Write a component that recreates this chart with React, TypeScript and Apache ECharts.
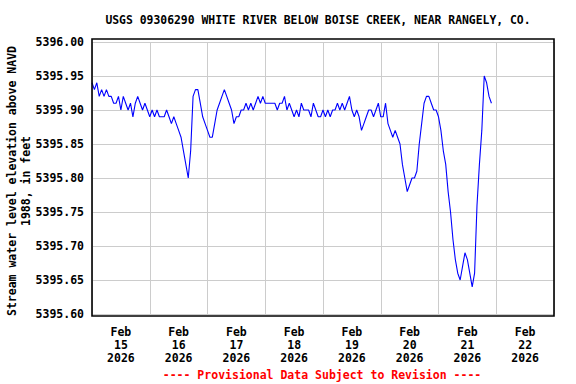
import React, { useEffect, useRef } from 'react';
import * as echarts from 'echarts';

const TITLE = 'USGS 09306290 WHITE RIVER BELOW BOISE CREEK, NEAR RANGELY, CO.';
const Y_AXIS_NAME = 'Stream water level elevation above NAVD\n1988, in feet';
const FOOTER = '---- Provisional Data Subject to Revision ----';

const DAY_LABELS = [
  'Feb\n15\n2026',
  'Feb\n16\n2026',
  'Feb\n17\n2026',
  'Feb\n18\n2026',
  'Feb\n19\n2026',
  'Feb\n20\n2026',
  'Feb\n21\n2026',
  'Feb\n22\n2026',
];

const Y_MIN = 5395.6;
const Y_MAX = 5396.0;
const Y_STEP = 0.05;
const HOURS_SPAN = 192; // Feb 15 00:00 -> Feb 23 00:00

// Hourly readings starting Feb 15 00:00 (feet)
const stage: number[] = [
  5395.94, 5395.93, 5395.94, 5395.92, 5395.93, 5395.92, 5395.93, 5395.92, 5395.92, 5395.91,
  5395.91, 5395.92, 5395.90, 5395.92, 5395.91, 5395.90, 5395.91, 5395.89, 5395.91, 5395.92,
  5395.91, 5395.90, 5395.91, 5395.90, 5395.89, 5395.90, 5395.89, 5395.90, 5395.89, 5395.89,
  5395.89, 5395.90, 5395.89, 5395.88, 5395.89, 5395.88, 5395.87, 5395.86, 5395.84, 5395.82,
  5395.80, 5395.84, 5395.92, 5395.93, 5395.93, 5395.91, 5395.89, 5395.88, 5395.87, 5395.86,
  5395.86, 5395.88, 5395.90, 5395.91, 5395.92, 5395.93, 5395.92, 5395.91, 5395.90, 5395.88,
  5395.89, 5395.89, 5395.90, 5395.90, 5395.91, 5395.90, 5395.91, 5395.90, 5395.91, 5395.92,
  5395.91, 5395.92, 5395.91, 5395.91, 5395.91, 5395.91, 5395.91, 5395.90, 5395.91, 5395.91,
  5395.92, 5395.90, 5395.91, 5395.90, 5395.89, 5395.90, 5395.89, 5395.91, 5395.90, 5395.90,
  5395.90, 5395.89, 5395.91, 5395.90, 5395.89, 5395.89, 5395.90, 5395.89, 5395.90, 5395.89,
  5395.90, 5395.90, 5395.91, 5395.90, 5395.91, 5395.90, 5395.91, 5395.92, 5395.90, 5395.89,
  5395.90, 5395.89, 5395.87, 5395.88, 5395.89, 5395.90, 5395.90, 5395.89, 5395.90, 5395.91,
  5395.89, 5395.89, 5395.91, 5395.88, 5395.87, 5395.86, 5395.87, 5395.86, 5395.85, 5395.82,
  5395.80, 5395.78, 5395.79, 5395.80, 5395.80, 5395.81, 5395.85, 5395.88, 5395.91, 5395.92,
  5395.92, 5395.91, 5395.90, 5395.90, 5395.89, 5395.87, 5395.84, 5395.82, 5395.78, 5395.75,
  5395.71, 5395.68, 5395.66, 5395.65, 5395.67, 5395.69, 5395.68, 5395.66, 5395.64, 5395.66,
  5395.76, 5395.82, 5395.87, 5395.95, 5395.94, 5395.92, 5395.91,
];

const FONT = '"DejaVu Sans Mono", "Liberation Mono", monospace';

export default function App() {
  const ref = useRef<HTMLDivElement>(null);

  useEffect(() => {
    if (!ref.current) return;
    const chart = echarts.init(ref.current, undefined, { renderer: 'svg' });
    const seriesData = stage.map((v, i) => [i, v]);

    chart.setOption({
      animation: false,
      backgroundColor: '#ffffff',
      grid: { left: 92, right: 22, top: 42, bottom: 70, containLabel: false },
      xAxis: [
        {
          type: 'value',
          min: 0,
          max: HOURS_SPAN,
          position: 'top',
          show: false,
        },
        {
          type: 'category',
          data: DAY_LABELS,
          boundaryGap: true,
          position: 'bottom',
          axisLine: { show: false },
          axisTick: { show: false },
          splitLine: { show: true, interval: 0, lineStyle: { color: '#cccccc', width: 1 } },
          axisLabel: {
            interval: 0,
            margin: 11,
            color: '#000',
            fontFamily: FONT,
            fontWeight: 'bold',
            fontSize: 11.5,
            lineHeight: 13,
            align: 'center',
          },
        },
      ],
      yAxis: {
        type: 'value',
        min: Y_MIN,
        max: Y_MAX,
        interval: Y_STEP,
        axisLine: { show: false },
        axisTick: { show: false },
        splitLine: { show: true, lineStyle: { color: '#cccccc', width: 1 } },
        axisLabel: {
          margin: 8,
          color: '#000',
          fontFamily: FONT,
          fontWeight: 'bold',
          fontSize: 11.5,
          formatter: (v: number) => v.toFixed(2),
        },
      },
      series: [
        {
          type: 'line',
          xAxisIndex: 0,
          data: seriesData,
          showSymbol: false,
          symbol: 'none',
          lineStyle: { color: '#0000ff', width: 1.1 },
          z: 3,
        },
      ],
      graphic: [
        {
          type: 'rect',
          shape: { x: 92, y: 39, width: 462, height: 277 },
          style: { fill: 'none', stroke: '#000', lineWidth: 1.6 },
          silent: true,
          z: 10,
        },
        {
          type: 'text',
          x: 318,
          y: 20,
          style: {
            text: TITLE,
            fill: '#000',
            fontFamily: FONT,
            fontWeight: 'bold',
            fontSize: 11.4,
            align: 'center',
            verticalAlign: 'middle',
          },
        },
        {
          type: 'text',
          x: 19,
          y: 181,
          rotation: Math.PI / 2,
          style: {
            text: Y_AXIS_NAME,
            fill: '#000',
            fontFamily: FONT,
            fontWeight: 'bold',
            fontSize: 11.5,
            lineHeight: 14,
            align: 'center',
            verticalAlign: 'middle',
          },
        },
        {
          type: 'text',
          x: 322,
          y: 375,
          style: {
            text: FOOTER,
            fill: '#ff0000',
            fontFamily: FONT,
            fontWeight: 'bold',
            fontSize: 11.5,
            align: 'center',
            verticalAlign: 'middle',
          },
        },
      ],
    });

    return () => chart.dispose();
  }, []);

  return (
    <div
      ref={ref}
      style={{ position: 'fixed', left: 0, top: 0, width: 576, height: 384, background: '#fff' }}
    />
  );
}
